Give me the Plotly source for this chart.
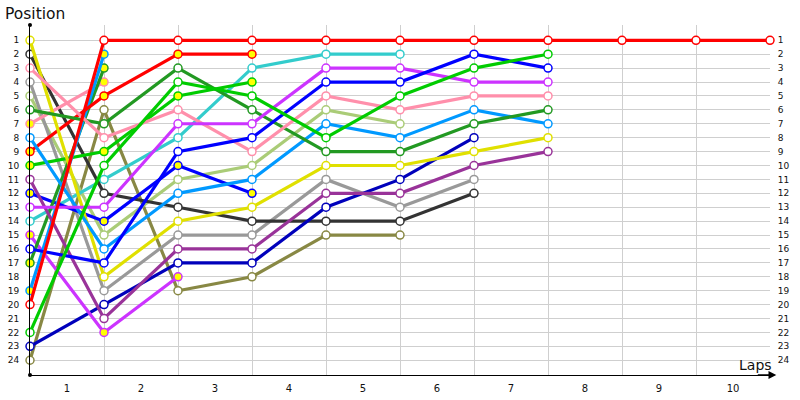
import plotly.graph_objects as go

# Lap index (0 = starting grid)
laps = [0, 1, 2, 3, 4, 5, 6, 7, 8, 9, 10]
lap_tick_vals = [0.5, 1.5, 2.5, 3.5, 4.5, 5.5, 6.5, 7.5, 8.5, 9.5]
lap_tick_text = ["1", "2", "3", "4", "5", "6", "7", "8", "9", "10"]
position_ticks = list(range(1, 25))

# Positions of each car per lap
pos_red = [20, 1, 1, 1, 1, 1, 1, 1, 1, 1, 1]
pos_red_ret = [9, 5, 2, 2]
pos_green = [22, 10, 4, 5, 8, 5, 3, 2]
pos_green_ret = [10, 9, 5, 4]
pos_blue = [16, 17, 9, 8, 4, 4, 2, 3]
pos_blue_ret = [12, 14, 10, 12]
pos_navy = [23, 20, 17, 17, 13, 11, 8]
pos_violet = [13, 13, 7, 7, 3, 3, 4, 4]
pos_violet_ret = [15, 22, 18]
pos_pink = [3, 8, 6, 9, 5, 6, 5, 5]
pos_pink_ret = [7, 4]
pos_dkgreen = [6, 7, 3, 6, 9, 9, 7, 6]
pos_dkgreen_ret = [17, 3]
pos_ltblue = [8, 16, 12, 11, 7, 8, 6, 7]
pos_ltblue_ret = [19, 2]
pos_yellow = [1, 18, 14, 13, 10, 10, 9, 8]
pos_dkgray = [2, 12, 13, 14, 14, 14, 12]
pos_gray = [4, 19, 15, 15, 11, 13, 11]
pos_purple = [11, 21, 16, 16, 12, 12, 10, 9]
pos_teal = [14, 11, 8, 3, 2, 2]
pos_ltolive = [5, 15, 11, 10, 6, 7]
pos_olive = [24, 6, 19, 18, 15, 15]

# (positions, line colour, retired)
series = [
    (pos_olive, "#888844", False),
    (pos_ltolive, "#aacc77", False),
    (pos_teal, "#33cccc", False),
    (pos_gray, "#999999", False),
    (pos_dkgray, "#333333", False),
    (pos_navy, "#0000bb", False),
    (pos_violet_ret, "#cc33ff", True),
    (pos_blue_ret, "#0000ff", True),
    (pos_green_ret, "#00cc00", True),
    (pos_pink_ret, "#ff8fab", True),
    (pos_dkgreen_ret, "#229922", True),
    (pos_ltblue_ret, "#0099ff", True),
    (pos_red_ret, "#ff0000", True),
    (pos_purple, "#993399", False),
    (pos_yellow, "#e0e000", False),
    (pos_ltblue, "#0099ff", False),
    (pos_dkgreen, "#229922", False),
    (pos_pink, "#ff8fab", False),
    (pos_violet, "#cc33ff", False),
    (pos_blue, "#0000ff", False),
    (pos_green, "#00cc00", False),
    (pos_red, "#ff0000", False),
]

fig = go.Figure()
for pos, col, ret in series:
    fig.add_trace(go.Scatter(
        x=laps[:len(pos)], y=pos, mode="lines+markers",
        line=dict(color=col, width=3.2),
        marker=dict(size=8, color="#ffff00" if ret else "#ffffff",
                    line=dict(color=col, width=1.5)),
        cliponaxis=False, showlegend=False, hoverinfo="skip",
    ))

# dummy trace for right-hand position axis
fig.add_trace(go.Scatter(x=[], y=[], yaxis="y2", showlegend=False))

tickfont = dict(family="DejaVu Sans", size=9, color="#111111")
fig.update_layout(
    width=800, height=400,
    margin=dict(l=30, r=30, t=25, b=25),
    plot_bgcolor="white", paper_bgcolor="white",
    xaxis=dict(
        range=[0, 10], tickmode="array", tickvals=lap_tick_vals,
        ticktext=lap_tick_text, showgrid=False, zeroline=False,
        showline=True, linecolor="black", linewidth=1, automargin=False,
        ticks="outside", ticklen=4, tickcolor="rgba(0,0,0,0)",
        tickfont=dict(family="DejaVu Sans", size=10, color="#111111"),
        minor=dict(tickmode="array", tickvals=list(range(1, 11)),
                   showgrid=True, gridcolor="#cfcfcf", gridwidth=1, ticks=""),
    ),
    yaxis=dict(
        range=[25.06, -0.1], tickmode="array", tickvals=position_ticks,
        ticktext=[str(v) for v in position_ticks], automargin=False,
        showgrid=True, gridcolor="#cfcfcf", gridwidth=1, zeroline=False,
        showline=True, linecolor="black", linewidth=1,
        ticks="outside", ticklen=8, tickcolor="rgba(0,0,0,0)",
        tickfont=tickfont,
    ),
    yaxis2=dict(
        range=[25.06, -0.1], overlaying="y", side="right", automargin=False,
        tickmode="array", tickvals=position_ticks,
        ticktext=[str(v) for v in position_ticks],
        showgrid=False, zeroline=False, showline=False,
        ticks="outside", ticklen=5, tickcolor="rgba(0,0,0,0)",
        tickfont=tickfont,
    ),
    annotations=[
        dict(text="Position", xref="paper", yref="paper", x=0, y=1,
             xshift=-27, xanchor="left", yanchor="bottom", showarrow=False,
             font=dict(family="DejaVu Sans", size=15.5, color="#111111")),
        dict(text="Laps", xref="paper", yref="paper", x=1, y=0,
             xshift=4, yshift=0, xanchor="right", yanchor="bottom", showarrow=False,
             font=dict(family="DejaVu Sans", size=14, color="#111111")),
        dict(text="", xref="paper", yref="paper", x=1.0085, y=0,
             axref="pixel", ayref="pixel", ax=-20, ay=0, showarrow=True,
             arrowhead=2, arrowsize=1.2, arrowwidth=1.3, arrowcolor="black"),
    ],
    shapes=[
        dict(type="circle", xref="paper", yref="paper", xsizemode="pixel",
             ysizemode="pixel", xanchor=0, yanchor=1, x0=-2, x1=2, y0=-2, y1=2,
             fillcolor="black", line=dict(width=0)),
        dict(type="circle", xref="paper", yref="paper", xsizemode="pixel",
             ysizemode="pixel", xanchor=0, yanchor=0, x0=-2, x1=2, y0=-2, y1=2,
             fillcolor="black", line=dict(width=0)),
    ],
)

fig.write_html("out.html", config={"displayModeBar": False},
               post_script="document.body.style.margin='0';document.body.style.overflow='hidden';")
